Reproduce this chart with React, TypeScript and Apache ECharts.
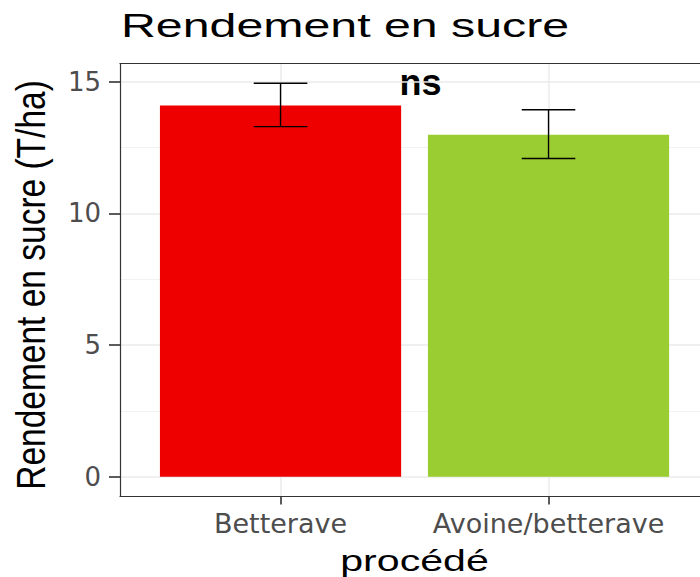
import React, { useEffect, useRef } from "react";
import * as echarts from "echarts";

const categories = ["Betterave", "Avoine/betterave"];
const values = [14.09, 12.98];
const errLow = [13.29, 12.08];
const errHigh = [14.94, 13.93];
const barColors = ["#EE0000", "#9ACD32"];
const yTicks = [0, 5, 10, 15];
const yMinorTicks = [2.5, 7.5, 12.5];
const xTicks = [1, 2];

const GRID_LEFT = 120;
const GRID_TOP = 63.5;
const GRID_W = 580;
const GRID_H = 433;
const PX_PER_UNIT = 268;
const X_MIN = 0.401;
const X_MAX = X_MIN + GRID_W / PX_PER_UNIT;
const Y_MIN = -0.747;
const Y_MAX = 15.687;

export default function App() {
  const ref = useRef<HTMLDivElement>(null);
  useEffect(() => {
    if (!ref.current) return;
    const chart = echarts.init(ref.current, null, { renderer: "svg" });
    const barPx = PX_PER_UNIT * 0.9;
    const tickFont = "DejaVu Sans";
    const borderLine = { show: true, onZero: false, lineStyle: { color: "#333333", width: 1.2 } };
    chart.setOption({
      animation: false,
      backgroundColor: "#ffffff",
      grid: {
        left: GRID_LEFT,
        top: GRID_TOP,
        width: GRID_W,
        height: GRID_H,
        show: false,
        containLabel: false,
      },
      xAxis: [
        {
          type: "value",
          min: X_MIN,
          max: X_MAX,
          position: "bottom",
          axisLine: borderLine,
          axisTick: {
            show: true,
            customValues: xTicks,
            length: 8,
            lineStyle: { color: "#333333", width: 1.6 },
          },
          axisLabel: {
            customValues: xTicks,
            formatter: (v: number) => categories[Math.round(v) - 1] ?? "",
            color: "#4D4D4D",
            fontFamily: tickFont,
            fontSize: 27,
            margin: 13,
          },
          splitLine: { show: true, lineStyle: { color: "#EBEBEB", width: 1.5 } },
        },
        {
          type: "value",
          min: X_MIN,
          max: X_MAX,
          position: "top",
          axisLine: borderLine,
          axisTick: { show: false },
          axisLabel: { show: false },
          splitLine: { show: false },
        },
      ],
      yAxis: [
        {
          type: "value",
          min: Y_MIN,
          max: Y_MAX,
          position: "left",
          axisLine: borderLine,
          axisTick: {
            show: true,
            customValues: yTicks,
            length: 11,
            lineStyle: { color: "#333333", width: 1.6 },
          },
          axisLabel: {
            customValues: yTicks,
            color: "#4D4D4D",
            fontFamily: tickFont,
            fontSize: 26,
            margin: 19,
          },
          splitLine: { show: true, lineStyle: { color: "#EBEBEB", width: 1.5 } },
        },
        {
          type: "value",
          min: Y_MIN,
          max: Y_MAX,
          position: "left",
          axisLine: { show: false },
          axisTick: { show: false, customValues: yMinorTicks },
          axisLabel: { show: false, customValues: yMinorTicks },
          splitLine: { show: true, lineStyle: { color: "#F2F2F2", width: 1 } },
        },
      ],
      series: [
        {
          type: "bar",
          xAxisIndex: 0,
          yAxisIndex: 0,
          barWidth: barPx,
          data: values.map((v, i) => ({
            value: [i + 1, v],
            itemStyle: { color: barColors[i] },
          })),
          z: 2,
        },
        {
          type: "custom",
          xAxisIndex: 0,
          yAxisIndex: 0,
          z: 3,
          data: values.map((_, i) => [i + 1, errLow[i], errHigh[i]]),
          encode: { x: 0, y: [1, 2] },
          renderItem: (params: any, api: any) => {
            const x = api.value(0);
            const lo = api.value(1);
            const hi = api.value(2);
            const top = api.coord([x, hi]);
            const bot = api.coord([x, lo]);
            const hw = api.size([0.1, 0])[0];
            const style = { stroke: "#000000", lineWidth: 1.4 };
            return {
              type: "group",
              children: [
                { type: "line", shape: { x1: top[0], y1: top[1], x2: bot[0], y2: bot[1] }, style },
                { type: "line", shape: { x1: top[0] - hw, y1: top[1], x2: top[0] + hw, y2: top[1] }, style },
                { type: "line", shape: { x1: bot[0] - hw, y1: bot[1], x2: bot[0] + hw, y2: bot[1] }, style },
              ],
            };
          },
        },
      ],
      graphic: [
        {
          type: "text",
          x: 121,
          y: 25,
          scaleX: 1.42,
          style: {
            text: "Rendement en sucre",
            font: "34px 'Liberation Sans', Arial, sans-serif",
            fill: "#000000",
            textAlign: "left",
            textVerticalAlign: "middle",
          },
        },
        {
          type: "text",
          x: 31.5,
          y: 285,
          rotation: Math.PI / 2,
          scaleY: 1.2,
          style: {
            text: "Rendement en sucre (T/ha)",
            font: "33.5px 'Liberation Sans', Arial, sans-serif",
            fill: "#000000",
            textAlign: "center",
            textVerticalAlign: "middle",
          },
        },
        {
          type: "text",
          x: 414.5,
          y: 561,
          scaleX: 1.37,
          style: {
            text: "procédé",
            font: "30px 'Liberation Sans', Arial, sans-serif",
            fill: "#000000",
            textAlign: "center",
            textVerticalAlign: "middle",
          },
        },
        {
          type: "text",
          x: 420.5,
          y: 82.5,
          style: {
            text: "ns",
            font: "bold 36px 'Liberation Sans', Arial, sans-serif",
            fill: "#000000",
            textAlign: "center",
            textVerticalAlign: "middle",
          },
        },
      ],
    });
    return () => chart.dispose();
  }, []);
  return (
    <div
      ref={ref}
      style={{ position: "fixed", left: 0, top: 0, width: 700, height: 577 }}
    />
  );
}
